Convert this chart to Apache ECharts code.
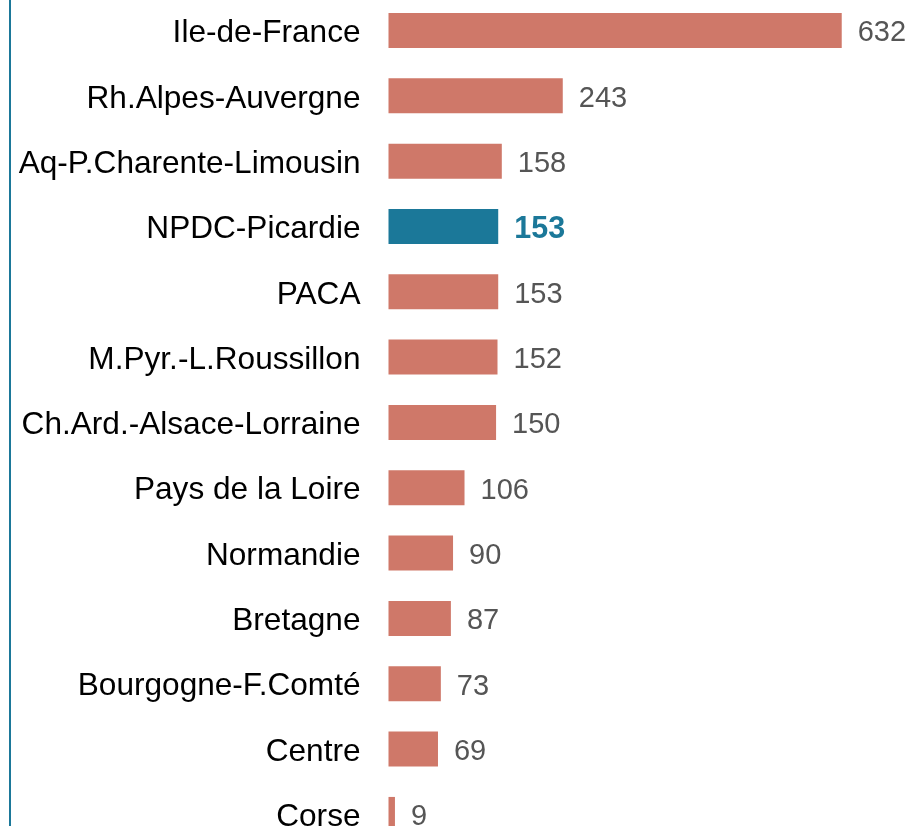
<!DOCTYPE html>
<html><head><meta charset="utf-8">
<script src="https://cdn.jsdelivr.net/npm/echarts@6/dist/echarts.min.js"></script>
<style>html,body{margin:0;padding:0;overflow:hidden;background:#fff;width:911px;height:826px}
#c{position:absolute;left:0;top:-4px;width:911px;height:870px}</style>
</head><body><div id="c"></div>
<script>
const categories = ["Ile-de-France","Rh.Alpes-Auvergne","Aq-P.Charente-Limousin","NPDC-Picardie","PACA","M.Pyr.-L.Roussillon","Ch.Ard.-Alsace-Lorraine","Pays de la Loire","Normandie","Bretagne","Bourgogne-F.Comté","Centre","Corse"];
const values = [632,243,158,153,153,152,150,106,90,87,73,69,9];
const highlight = "NPDC-Picardie";

const RED = "#CF7869", BLUE = "#1B7899";
const FONT = 'Liberation Sans, Arial, Helvetica, sans-serif';
const chart = echarts.init(document.getElementById('c'));
chart.setOption({
  animation:false,
  grid:{left:388.5, top:1.8, width:502, height:849.3, containLabel:false},
  xAxis:{type:'value', min:0, max:700, show:false},
  yAxis:{type:'category', data:categories, inverse:true,
    axisLine:{show:false}, axisTick:{show:false}, splitLine:{show:false},
    axisLabel:{margin:28, color:'#000', fontSize:31.6, fontFamily:FONT,
      formatter: v => '{a|' + v + '}',
      rich:{a:{fontSize:31.6, fontFamily:FONT, color:'#000', padding:[6,0,0,0]}}}},
  graphic:[{type:'rect', shape:{x:9, y:0, width:2, height:880}, style:{fill:BLUE}}],
  series:[{type:'bar', barWidth:35,
    data: values.map((v,i)=> categories[i]===highlight ? {value:v,
        itemStyle:{color:BLUE},
        label:{color:BLUE, fontWeight:'bold', fontSize:30.5}} : {value:v}),
    itemStyle:{color:RED},
    label:{show:true, position:'right', distance:16, offset:[0,3], color:'#555', fontSize:29,
      fontFamily:FONT}
  }]
});
</script></body></html>
